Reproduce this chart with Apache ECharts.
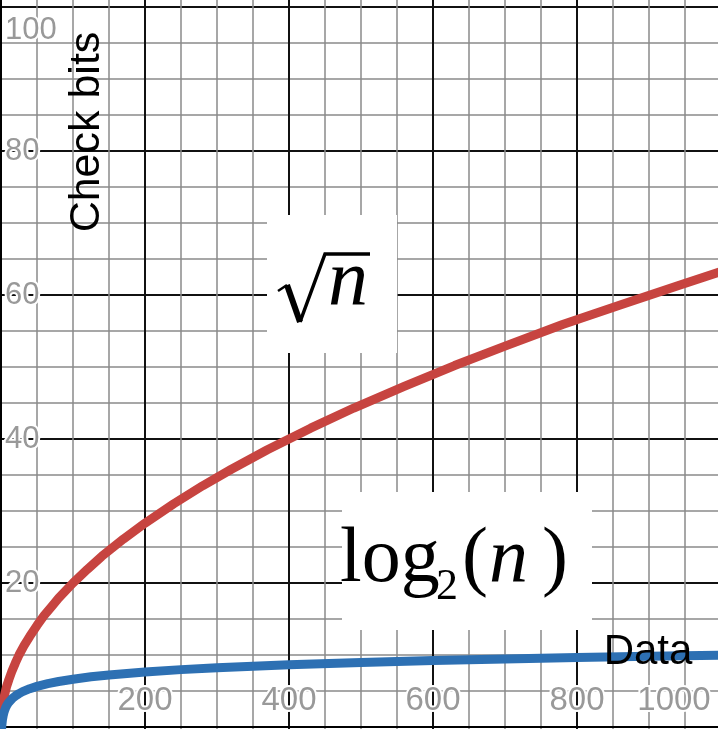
<!DOCTYPE html>
<html>
<head>
<meta charset="utf-8">
<script src="https://cdn.jsdelivr.net/npm/echarts@6/dist/echarts.min.js"></script>
<style>
html,body{margin:0;padding:0;background:#fff;}
#chart{width:718px;height:729px;}
</style>
</head>
<body>
<div id="chart"></div>
<script>
// Data
const nSqrt = [0, 0.25, 0.5, 1, 2, 3, 4, 6, 8, 11, 15, 20, 25, 32, 40, 50, 60, 70, 80, 100, 120, 140, 170, 200, 240, 280, 320, 370, 430, 490, 560, 630, 700, 780, 860, 940, 1000];
const bitsSqrt = [0, 1.0, 1.4, 2, 2.8, 3.5, 4, 4.9, 5.7, 6.6, 7.7, 8.9, 10, 11.3, 12.6, 14.1, 15.5, 16.7, 17.9, 20, 21.9, 23.7, 26.1, 28.3, 31, 33.5, 35.8, 38.5, 41.5, 44.3, 47.3, 50.2, 52.9, 55.9, 58.6, 61.3, 63.25];
const nLog = [0.3, 0.4, 0.5, 0.7, 1, 1.4, 2, 3, 4, 5, 6.5, 8, 10, 12, 16, 20, 25, 30, 40, 50, 65, 80, 100, 125, 150, 200, 250, 300, 400, 500, 600, 700, 800, 900, 1000];
const bitsLog = [-1.74, -1.32, -1, -0.51, 0, 0.49, 1, 1.58, 2, 2.32, 2.7, 3, 3.32, 3.58, 4, 4.32, 4.64, 4.91, 5.32, 5.64, 6.02, 6.32, 6.64, 6.97, 7.23, 7.64, 7.97, 8.23, 8.64, 8.97, 9.23, 9.45, 9.64, 9.81, 9.97];
const xTickLabels = [200, 400, 600, 800, 1000];
const yTickLabels = [20, 40, 60, 80, 100];
const xAxisTitle = 'Data';
const yAxisTitle = 'Check bits';

const chart = echarts.init(document.getElementById('chart'), null, {renderer: 'canvas'});
const labelGrey = '#999999';
const halo = {textBorderColor: '#fff', textBorderWidth: 4};
const sans = '"Liberation Sans", Arial, sans-serif';
const serif = '"Liberation Serif", serif';

const option = {
  animation: false,
  backgroundColor: '#fff',
  grid: {left: -143, top: -137, width: 864, height: 1008, containLabel: false, outerBoundsMode: 'none'},
  xAxis: {
    type: 'value', min: -200, max: 1000, interval: 200,
    axisLine: {show: true, onZero: true, lineStyle: {color: '#000', width: 2}},
    axisTick: {show: false},
    minorTick: {show: false, splitNumber: 4},
    splitLine: {show: true, lineStyle: {color: '#111', width: 2}},
    minorSplitLine: {show: true, lineStyle: {color: '#8a8a8a', width: 1.5}},
    axisLabel: {
      show: true, inside: true, margin: 170, verticalAlign: 'middle', interval: 0,
      color: labelGrey, fontSize: 33, fontFamily: sans,
      ...halo,
      formatter: function (v) {
        if (xTickLabels.indexOf(v) < 0) return '';
        if (v === 1000) return '{r|' + v + '}';
        return String(v);
      },
      rich: {r: {padding: [0, 94, 0, 0], color: labelGrey, fontSize: 33, fontFamily: sans, ...halo}}
    }
  },
  yAxis: {
    type: 'value', min: -20, max: 120, interval: 20,
    axisLine: {show: true, onZero: true, lineStyle: {color: '#000', width: 2}},
    axisTick: {show: false},
    minorTick: {show: false, splitNumber: 4},
    splitLine: {show: true, lineStyle: {color: '#111', width: 2}},
    minorSplitLine: {show: true, lineStyle: {color: '#8a8a8a', width: 1.5}},
    axisLabel: {
      show: true, inside: true, margin: 148, align: 'left', verticalAlign: 'middle',
      color: labelGrey, fontSize: 31, fontFamily: sans,
      ...halo,
      formatter: function (v) {
        if (yTickLabels.indexOf(v) < 0) return '';
        if (v === 100) return '{t|' + v + '}';
        return String(v);
      },
      rich: {t: {padding: [46, 0, 0, 0], color: labelGrey, fontSize: 31, fontFamily: sans, ...halo}}
    }
  },
  series: [
    {
      type: 'line', name: 'sqrt', showSymbol: false, smooth: false,
      data: nSqrt.map((n, i) => [n, bitsSqrt[i]]),
      lineStyle: {color: '#c74440', width: 9, cap: 'round', join: 'round'},
      z: 5
    },
    {
      type: 'line', name: 'log', showSymbol: false, smooth: false,
      data: nLog.map((n, i) => [n, bitsLog[i]]),
      lineStyle: {color: '#2d70b3', width: 9, cap: 'round', join: 'round'},
      z: 6
    }
  ],
  graphic: [
    {type: 'rect', z: 50, shape: {x: 267, y: 215, width: 130, height: 138}, style: {fill: '#fff'}},
    {type: 'rect', z: 50, shape: {x: 342, y: 492, width: 250, height: 138}, style: {fill: '#fff'}},
    // radical sign
    {type: 'polyline', z: 60, shape: {points: [[278, 291], [287, 285]]}, style: {stroke: '#000', lineWidth: 2.5, fill: null}},
    {type: 'polyline', z: 60, shape: {points: [[287, 285], [300, 322]]}, style: {stroke: '#000', lineWidth: 6, fill: null}},
    {type: 'polyline', z: 60, shape: {points: [[300, 322], [325, 254], [370, 254]]}, style: {stroke: '#000', lineWidth: 3.5, fill: null, lineJoin: 'miter'}},
    {type: 'text', z: 60, style: {text: 'n', x: 328, y: 283, fontSize: 80, fontStyle: 'italic', fontFamily: serif, fill: '#000', align: 'left', verticalAlign: 'middle'}},
    // log2(n)
    {type: 'text', z: 60, style: {text: 'log', x: 340, y: 561, fontSize: 78, fontFamily: serif, fill: '#000', align: 'left', verticalAlign: 'middle'}},
    {type: 'text', z: 60, style: {text: '2', x: 436, y: 587, fontSize: 44, fontFamily: serif, fill: '#000', align: 'left', verticalAlign: 'middle'}},
    {type: 'text', z: 60, style: {text: '(', x: 462, y: 561, fontSize: 78, fontFamily: serif, fill: '#000', align: 'left', verticalAlign: 'middle'}},
    {type: 'text', z: 60, style: {text: 'n', x: 489, y: 561, fontSize: 78, fontStyle: 'italic', fontFamily: serif, fill: '#000', align: 'left', verticalAlign: 'middle'}},
    {type: 'text', z: 60, style: {text: ')', x: 542, y: 561, fontSize: 78, fontFamily: serif, fill: '#000', align: 'left', verticalAlign: 'middle'}},
    // axis titles
    {type: 'text', z: 60, x: 87, y: 132, rotation: Math.PI / 2, style: {text: yAxisTitle, x: 0, y: 0, fontSize: 43, fontFamily: sans, fill: '#000', align: 'center', verticalAlign: 'middle'}},
    {type: 'text', z: 60, style: {text: xAxisTitle, x: 648, y: 652, fontSize: 42, fontFamily: sans, fill: '#000', align: 'center', verticalAlign: 'middle'}}
  ]
};
chart.setOption(option);
</script>
</body>
</html>
